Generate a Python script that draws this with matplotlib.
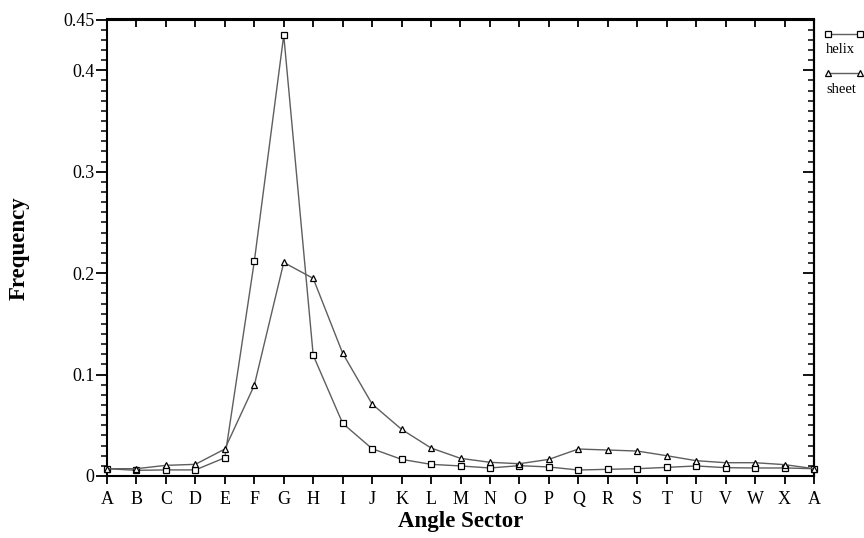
import numpy as np
import matplotlib
matplotlib.use('Agg')
import matplotlib.pyplot as plt
from matplotlib.lines import Line2D

# frequency per angle sector
sectors = ['A', 'B', 'C', 'D', 'E', 'F', 'G', 'H', 'I', 'J', 'K', 'L', 'M',
           'N', 'O', 'P', 'Q', 'R', 'S', 'T', 'U', 'V', 'W', 'X', 'A']
helix = [0.0072, 0.0056, 0.0060, 0.0060, 0.0180, 0.2115, 0.4345, 0.1190,
         0.0519, 0.0269, 0.0164, 0.0115, 0.0099, 0.0079, 0.0102, 0.0089,
         0.0059, 0.0066, 0.0072, 0.0085, 0.0099, 0.0082, 0.0079, 0.0079, 0.0072]
sheet = [0.0072, 0.0072, 0.0105, 0.0115, 0.0266, 0.0894, 0.2105, 0.1948,
         0.1210, 0.0709, 0.0460, 0.0276, 0.0174, 0.0135, 0.0121, 0.0164,
         0.0266, 0.0256, 0.0246, 0.0200, 0.0151, 0.0131, 0.0131, 0.0112, 0.0072]
yticks = [0, 0.1, 0.2, 0.3, 0.4, 0.45]
ytick_labels = ['0', '0.1', '0.2', '0.3', '0.4', '0.45']

plt.rcParams['font.family'] = ['Liberation Serif', 'DejaVu Serif']

W, H = 864, 538
fig = plt.figure(figsize=(W / 100, H / 100), dpi=100)
ax = fig.add_axes([107 / W, 1 - 476 / H, 707 / W, 456.5 / H])

x = np.arange(len(sectors))
line_col = '#5e5e5e'
ax.plot(x, helix, color=line_col, lw=1.0, marker='s', ms=4.3,
        mfc='white', mec='black', mew=0.9, clip_on=False, zorder=3)
ax.plot(x, sheet, color=line_col, lw=1.0, marker='^', ms=4.8,
        mfc='white', mec='black', mew=0.9, clip_on=False, zorder=3)

ax.set_xlim(0, len(sectors) - 1)
ax.set_ylim(0, 0.45)

for s in ax.spines.values():
    s.set_linewidth(1.5)

ax.set_xticks(x)
ax.set_xticklabels(sectors, fontsize=13)
ax.set_yticks(yticks)
ax.set_yticklabels(ytick_labels, fontsize=13)
ax.set_yticks(np.arange(0.01, 0.45, 0.01), minor=True)
ax.tick_params(axis='x', which='major', direction='out', length=6, width=1.3,
               pad=5, top=False)
ax.tick_params(axis='y', which='major', direction='out', length=8, width=1.3,
               pad=1, right=False)
ax.tick_params(axis='y', which='minor', direction='out', length=4, width=1.1,
               right=False)

# mirrored ticks on top and right, pointing inward
top = ax.secondary_xaxis('top')
top.set_xticks(x)
top.tick_params(direction='in', length=6, width=1.3, labeltop=False)
top.spines['top'].set_linewidth(1.5)
right = ax.secondary_yaxis('right')
right.set_yticks(yticks)
right.set_yticks(np.arange(0.01, 0.45, 0.01), minor=True)
right.tick_params(which='major', direction='in', length=8, width=1.3, labelright=False)
right.tick_params(which='minor', direction='in', length=4, width=1.1)
right.spines['right'].set_linewidth(1.5)

fig.text(460.5 / W, 1 - 527 / H, 'Angle Sector', fontsize=16.5, fontweight='bold',
         ha='center', va='baseline')
fig.text(19.5 / W, 1 - 248 / H, 'Frequency', fontsize=16.5, fontweight='bold',
         ha='center', va='center', rotation=90)

# legend drawn beside the plot, sample line above the label
for (name, mk, ly, ty) in [('helix', 's', 34, 53), ('sheet', '^', 73, 93)]:
    fig.add_artist(Line2D([828 / W, 860 / W], [1 - ly / H, 1 - ly / H],
                          color=line_col, lw=1.0, marker=mk, ms=4.3 if mk == 's' else 4.8,
                          mfc='white', mec='black', mew=0.9))
    fig.text(826 / W, 1 - ty / H, name, fontsize=10.5, ha='left', va='baseline')

fig.savefig('out.png', dpi=100)
